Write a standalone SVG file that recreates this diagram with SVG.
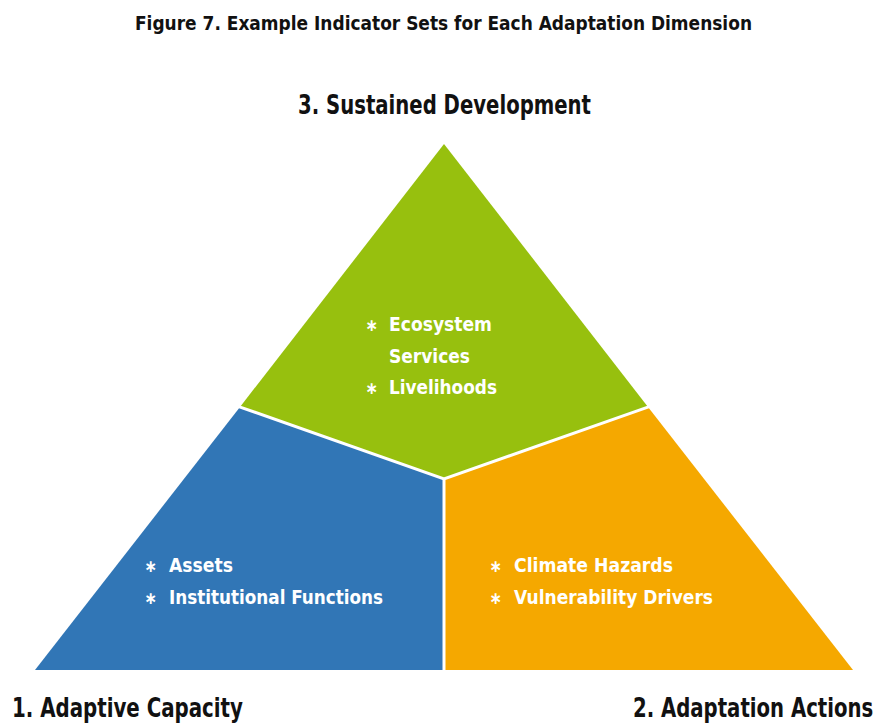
<svg xmlns="http://www.w3.org/2000/svg" width="878" height="724" viewBox="0 0 878 724">
  <style>
    .t { font-family: "DejaVu Sans Condensed", "DejaVu Sans", "Liberation Sans", sans-serif; font-weight: bold; font-stretch: condensed; }
    .head { fill: #111111; }
    .in { fill: #ffffff; font-size: 19px; }
    .bul { fill: #ffffff; font-size: 17px; text-anchor: middle; }
    .div { stroke: #ffffff; stroke-width: 3; fill: none; stroke-linecap: butt; }
  </style>
  <rect width="878" height="724" fill="#ffffff"/>
  <text class="t head" x="135" y="30" font-size="19" textLength="617" lengthAdjust="spacingAndGlyphs">Figure 7. Example Indicator Sets for Each Adaptation Dimension</text>

  <g id="sustained-development">
    <polygon points="444,144 240,407 444,479 648,407" fill="#97c00e"/>
    <text class="t head" x="298" y="114" font-size="26" textLength="293" lengthAdjust="spacingAndGlyphs">3. Sustained Development</text>
    <text class="t bul" x="372" y="331">∗</text>
    <text class="t in" x="389" y="331" textLength="103" lengthAdjust="spacingAndGlyphs">Ecosystem</text>
    <text class="t in" x="389" y="363" textLength="81" lengthAdjust="spacingAndGlyphs">Services</text>
    <text class="t bul" x="372" y="394">∗</text>
    <text class="t in" x="389" y="394" textLength="108" lengthAdjust="spacingAndGlyphs">Livelihoods</text>
  </g>

  <g id="adaptive-capacity">
    <polygon points="240,407 444,479 444,670 35,670" fill="#3176b6"/>
    <text class="t head" x="12" y="717" font-size="26" textLength="231" lengthAdjust="spacingAndGlyphs">1. Adaptive Capacity</text>
    <text class="t bul" x="151" y="572">∗</text>
    <text class="t in" x="169" y="572" textLength="64" lengthAdjust="spacingAndGlyphs">Assets</text>
    <text class="t bul" x="151" y="604">∗</text>
    <text class="t in" x="169" y="604" textLength="214" lengthAdjust="spacingAndGlyphs">Institutional Functions</text>
  </g>

  <g id="adaptation-actions">
    <polygon points="444,479 648,407 853,670 444,670" fill="#f5a800"/>
    <text class="t head" transform="translate(633,717) scale(0.84,1)" x="0" y="0" font-size="26" textLength="286" lengthAdjust="spacingAndGlyphs">2. Adaptation Actions</text>
    <text class="t bul" x="496" y="572">∗</text>
    <text class="t in" x="514" y="572" textLength="159" lengthAdjust="spacingAndGlyphs">Climate Hazards</text>
    <text class="t bul" x="496" y="604">∗</text>
    <text class="t in" x="514" y="604" textLength="199" lengthAdjust="spacingAndGlyphs">Vulnerability Drivers</text>
  </g>

  <g id="connectors">
    <polyline class="div" points="238,406.3 444,479 650,406.3"/>
    <line class="div" x1="444" y1="479" x2="444" y2="671"/>
  </g>
</svg>
